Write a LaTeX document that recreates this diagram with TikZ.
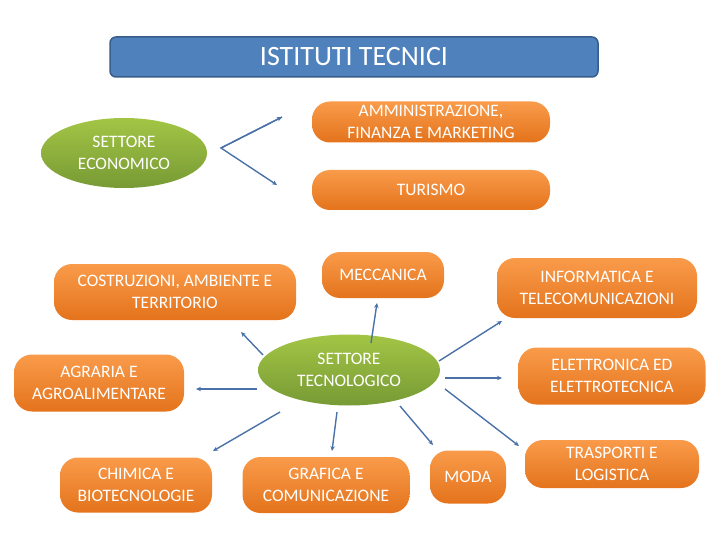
\documentclass[tikz,border=0pt]{standalone}
\usepackage{fontspec}
\setmainfont{Carlito}
\usetikzlibrary{shapes.geometric,arrows.meta}
\definecolor{titlefill}{HTML}{4F81BD}
\definecolor{titleedge}{HTML}{385D8A}
\definecolor{orangetop}{HTML}{F99B4A}
\definecolor{orangebot}{HTML}{E4731C}
\definecolor{greentop}{HTML}{A3C545}
\definecolor{greenbot}{HTML}{779A35}
\definecolor{arrowblue}{HTML}{4A72A8}
\tikzset{
  obox/.style={rectangle, rounded corners=18pt, top color=orangetop, bottom color=orangebot,
    text=white, align=center, inner sep=0pt, font=\fontsize{17.5}{22}\selectfont},
  gell/.style={ellipse, top color=greentop, bottom color=greenbot, text=white, align=center,
    inner sep=0pt, font=\fontsize{17.5}{22}\selectfont},
  conn/.style={draw=arrowblue, line width=1.4pt, -{Stealth[length=5pt,width=4.5pt]}},
}
\begin{document}
\begin{tikzpicture}[x=1pt,y=-1pt]
\useasboundingbox (0,0) rectangle (720,540);
% title
\node[rectangle, rounded corners=6pt, fill=titlefill, draw=titleedge, line width=1.5pt,
  minimum width=488pt, minimum height=40pt, text=white, font=\fontsize{28}{30}\selectfont]
  (title) at (354,57) {ISTITUTI TECNICI};
% economic
\node[gell, minimum width=166pt, minimum height=70pt] (eco) at (124,153) {SETTORE\\ECONOMICO};
\node[obox, minimum width=238pt, minimum height=41pt] (amm) at (431,122) {AMMINISTRAZIONE,\\FINANZA E MARKETING};
\node[obox, minimum width=238pt, minimum height=40pt] (tur) at (431,190) {TURISMO};
\coordinate (ev) at (221,148);
\coordinate (ea) at (282,117);
\coordinate (et) at (277,185);
\draw[conn] (ea) -- (ev) -- (et);
\draw[conn] (ev) -- (ea);
% technological
\node[gell, minimum width=182pt, minimum height=71pt] (tec) at (349,370) {SETTORE\\TECNOLOGICO};
\node[obox, minimum width=242pt, minimum height=56pt] (cos) at (175,292) {COSTRUZIONI, AMBIENTE E\\TERRITORIO};
\node[obox, minimum width=122pt, minimum height=46pt] (mec) at (383,275) {MECCANICA};
\node[obox, minimum width=200pt, minimum height=60pt] (inf) at (597,288) {INFORMATICA E\\TELECOMUNICAZIONI};
\node[obox, minimum width=170pt, minimum height=57pt] (agr) at (99,383) {AGRARIA E\\AGROALIMENTARE};
\node[obox, minimum width=187pt, minimum height=57pt] (ele) at (612,376) {ELETTRONICA ED\\ELETTROTECNICA};
\node[obox, minimum width=152pt, minimum height=55pt] (chi) at (136,485) {CHIMICA E\\BIOTECNOLOGIE};
\node[obox, minimum width=167pt, minimum height=56pt] (gra) at (326,485) {GRAFICA E\\COMUNICAZIONE};
\node[obox, minimum width=76pt, minimum height=53pt] (mod) at (468,477) {MODA};
\node[obox, minimum width=174pt, minimum height=48pt] (tra) at (612,464) {TRASPORTI E\\LOGISTICA};
% arrow ends
\coordinate (s1) at (371,343); \coordinate (t1) at (377,303);
\coordinate (s2) at (263,355); \coordinate (t2) at (241,332);
\coordinate (s3) at (257,389); \coordinate (t3) at (196,389);
\coordinate (s4) at (280,412); \coordinate (t4) at (213,451);
\coordinate (s5) at (337,412); \coordinate (t5) at (332,451);
\coordinate (s6) at (400,406); \coordinate (t6) at (433,445);
\coordinate (s7) at (439,361); \coordinate (t7) at (502,321);
\coordinate (s8) at (445,378); \coordinate (t8) at (502,378);
\coordinate (s9) at (445,389); \coordinate (t9) at (519,446);
\foreach \i in {1,...,9} {\draw[conn] (s\i) -- (t\i);}
\end{tikzpicture}
\end{document}
